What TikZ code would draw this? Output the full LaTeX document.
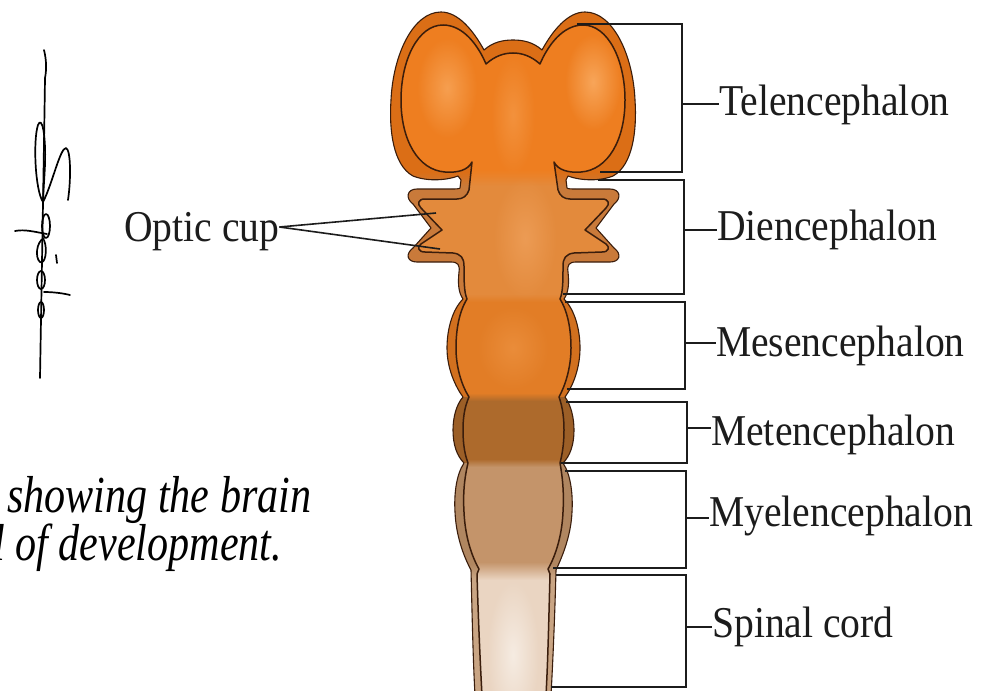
\documentclass[tikz,border=0pt]{standalone}
\usepackage{fontspec}
\setmainfont{Liberation Serif}
\newfontfamily\partfont[FakeStretch=0.9]{Liberation Serif}
\newfontfamily\notefont[FakeStretch=0.81]{Liberation Serif}
\usetikzlibrary{fadings}
\tikzfading[name=softspot, inner color=transparent!0, outer color=transparent!100]

\definecolor{lineBrown}{HTML}{3A1D0C}
\definecolor{telRim}{HTML}{DB6E16}
\definecolor{telIn}{HTML}{EE7E20}
\definecolor{telHi}{HTML}{F9AA60}
\definecolor{dienRim}{HTML}{C97A3A}
\definecolor{dienIn}{HTML}{E38A3C}
\definecolor{dienHi}{HTML}{F0A35F}
\definecolor{mesRim}{HTML}{D2701E}
\definecolor{mesIn}{HTML}{E27D26}
\definecolor{metRim}{HTML}{9C5F27}
\definecolor{metIn}{HTML}{AD6A2C}
\definecolor{myelRim}{HTML}{B08660}
\definecolor{myelIn}{HTML}{C4946A}
\definecolor{spinRim}{HTML}{C9A584}
\definecolor{spinIn}{HTML}{EAD5C2}
\definecolor{spinHi}{HTML}{F8F0E8}
\definecolor{inkBlack}{HTML}{1C1C1C}

% outer silhouette of the neural tube, left side up, over the top, right side down
\newcommand\brainOuter{(-38,695) .. controls (-40,660) and (-41,610) .. (-42,570)
 .. controls (-50,555) and (-57,535) .. (-58,512) .. controls (-59,495) and (-57,475) .. (-49,463)
 .. controls (-56,456) and (-60,445) .. (-60,430) .. controls (-60,418) and (-57,405) .. (-50,397)
 .. controls (-58,386) and (-66,368) .. (-66,348) .. controls (-66,330) and (-61,310) .. (-50,299)
 .. controls (-55,292) and (-55,282) .. (-54,272) .. controls (-53,265) and (-55,262) .. (-62,262)
 -- (-96,262) .. controls (-106,262) and (-108,254) .. (-100,248) -- (-82,228) -- (-100,204)
 .. controls (-108,198) and (-106,189) .. (-96,189) -- (-62,189) .. controls (-57,189) and (-54,189) .. (-53,188)
 -- (-52,180) -- (-55,176)
 .. controls (-65,180) and (-85,182) .. (-100,176) .. controls (-120,165) and (-124,130) .. (-122,100)
 .. controls (-120,55) and (-100,12) .. (-72,12) .. controls (-55,12) and (-40,30) .. (-29,50)
 .. controls (-20,42) and (-10,40) .. (0,40) .. controls (10,40) and (20,42) .. (29,50)
 .. controls (40,30) and (55,12) .. (72,12) .. controls (100,12) and (120,55) .. (122,100)
 .. controls (124,130) and (120,165) .. (100,176) .. controls (85,182) and (65,180) .. (55,176)
 -- (53,180) -- (54,188) .. controls (55,189) and (58,189) .. (63,189)
 -- (97,189) .. controls (107,189) and (109,198) .. (101,204) -- (83,228) -- (101,248)
 .. controls (109,254) and (107,262) .. (97,262) -- (63,262) .. controls (56,262) and (54,265) .. (55,272)
 .. controls (56,282) and (56,292) .. (51,299)
 .. controls (62,310) and (67,330) .. (67,348) .. controls (67,368) and (60,386) .. (52,397)
 .. controls (58,405) and (61,418) .. (61,430) .. controls (61,445) and (57,456) .. (50,463)
 .. controls (58,475) and (60,495) .. (59,512) .. controls (58,535) and (50,555) .. (43,570)
 .. controls (42,610) and (40,660) .. (38,695)}

% inner wall line of the tube
\newcommand\brainInner{(-31,695) .. controls (-33,660) and (-35,610) .. (-36,574)
 -- (-34,569) .. controls (-42,555) and (-48,535) .. (-49,512) .. controls (-50,495) and (-49,480) .. (-45,463)
 .. controls (-48,455) and (-50,445) .. (-50,430) .. controls (-50,420) and (-49,408) .. (-44,397)
 .. controls (-51,386) and (-57,368) .. (-57,348) .. controls (-57,330) and (-54,312) .. (-46,299)
 .. controls (-49,292) and (-49,280) .. (-49,266) .. controls (-49,258) and (-52,254) .. (-60,253)
 -- (-88,252) .. controls (-95,252) and (-96,247) .. (-92,244) -- (-71,230) -- (-92,208)
 .. controls (-96,204) and (-95,199) .. (-88,199)
 -- (-56,199) .. controls (-50,199) and (-46,196) .. (-44,190) -- (-41,162)
 .. controls (-45,170) and (-55,173) .. (-68,172) .. controls (-95,170) and (-112,140) .. (-112,100)
 .. controls (-112,60) and (-95,25) .. (-70,25) .. controls (-50,25) and (-35,45) .. (-27,64)
 .. controls (-18,56) and (-9,53) .. (0,53) .. controls (9,53) and (18,56) .. (27,64)
 .. controls (35,45) and (50,25) .. (70,25) .. controls (95,25) and (112,60) .. (112,100)
 .. controls (112,140) and (95,170) .. (68,172) .. controls (55,173) and (45,170) .. (41,162)
 -- (45,190) .. controls (47,196) and (51,199) .. (57,199) -- (89,199)
 .. controls (96,199) and (97,204) .. (93,208) -- (72,230) -- (93,244)
 .. controls (97,247) and (96,252) .. (89,252) -- (61,253)
 .. controls (53,254) and (50,258) .. (50,266) .. controls (50,280) and (50,292) .. (47,299)
 .. controls (55,312) and (58,330) .. (58,348) .. controls (58,368) and (52,386) .. (46,397)
 .. controls (50,408) and (51,420) .. (51,430) .. controls (51,445) and (49,455) .. (47,463)
 .. controls (50,480) and (51,495) .. (50,512) .. controls (49,535) and (43,555) .. (35,569)
 -- (37,574) .. controls (36,610) and (35,660) .. (33,695)}

\begin{document}
\begin{tikzpicture}[x=1pt,y=-1pt,
  outline/.style={draw=lineBrown, line width=1.1pt, line join=round},
  innerwall/.style={draw=lineBrown, line width=1.5pt, line join=round, line cap=round},
  glow/.style={path fading=softspot},
  bracket/.style={draw=inkBlack, line width=2pt, line join=miter},
  part/.style={font=\partfont\fontsize{44}{50}\selectfont, text=inkBlack, inner sep=0pt, anchor=base west},
  note/.style={font=\notefont\itshape\fontsize{52}{41}\selectfont,
    text=black, inner sep=0pt, align=left, anchor=north west},
  sig/.style={draw=black, line width=1.7pt, line cap=round, line join=round}]
\useasboundingbox (0,0) rectangle (992,690);
\fill[white] (0,0) rectangle (992,690);
\begin{scope}
\clip (0,0) rectangle (992,690);

% ---------------- neural tube ----------------
\begin{scope}[shift={(513,0)}]
  % outer wall colours
  \begin{scope}
    \clip \brainOuter -- cycle;
    \fill[telRim]  (-140,0)   rectangle (140,178);
    \fill[dienRim] (-140,178) rectangle (140,298);
    \fill[mesRim]  (-140,298) rectangle (140,397);
    \fill[metRim]  (-140,397) rectangle (140,463);
    \fill[myelRim] (-140,463) rectangle (140,570);
    \fill[spinRim] (-140,570) rectangle (140,700);
    \shade[top color=telRim, bottom color=dienRim] (-140,172) rectangle (140,186);
    \shade[top color=myelRim, bottom color=spinRim] (-140,564) rectangle (140,578);
  \end{scope}
  % lumen colours
  \begin{scope}
    \clip \brainInner -- cycle;
    \fill[telIn]  (-140,0)   rectangle (140,178);
    \fill[dienIn] (-140,178) rectangle (140,298);
    \fill[mesIn]  (-140,298) rectangle (140,397);
    \fill[metIn]  (-140,397) rectangle (140,463);
    \fill[myelIn] (-140,463) rectangle (140,570);
    \fill[spinIn] (-140,570) rectangle (140,700);
    \shade[top color=telIn, bottom color=dienIn] (-140,170) rectangle (140,186);
    \shade[top color=dienIn, bottom color=mesIn] (-140,294) rectangle (140,302);
    \shade[top color=mesIn, bottom color=metIn] (-140,393) rectangle (140,401);
    \shade[top color=metIn, bottom color=myelIn] (-140,459) rectangle (140,467);
    \shade[top color=myelIn, bottom color=spinIn] (-140,562) rectangle (140,580);
    % soft highlights
    \fill[telHi, fill opacity=0.75, glow] (-66,88) ellipse (30pt and 50pt);
    \fill[telHi, fill opacity=0.9, glow] (80,82) ellipse (28pt and 48pt);
    \fill[telHi, fill opacity=0.45, glow] (0,115) ellipse (22pt and 60pt);
    \fill[dienHi, fill opacity=0.7, glow] (12,238) ellipse (32pt and 62pt);
    \fill[telHi, fill opacity=0.35, glow] (0,348) ellipse (36pt and 42pt);
    \fill[spinHi, fill opacity=0.85, glow] (0,655) ellipse (26pt and 75pt);
  \end{scope}
  \draw[outline] \brainOuter;
  \draw[innerwall] \brainInner;
\end{scope}

% ---------------- bracket end points on the tube ----------------
\coordinate (telTop) at (577,24);   \coordinate (telBot) at (600,172);  \coordinate (telMid) at (682,104);
\coordinate (dieTop) at (598,180);  \coordinate (dieBot) at (563,294);  \coordinate (dieMid) at (684,230);
\coordinate (mesTop) at (565,302);  \coordinate (mesBot) at (567,389);  \coordinate (mesMid) at (685,343);
\coordinate (metTop) at (566,402);  \coordinate (metBot) at (561,463);  \coordinate (metMid) at (687,428);
\coordinate (myeTop) at (565,471);  \coordinate (myeBot) at (553,568);  \coordinate (myeMid) at (686,518);
\coordinate (spiTop) at (556,575);  \coordinate (spiBot) at (551,687);  \coordinate (spiMid) at (686,627);
\coordinate (cupUp) at (436,213);   \coordinate (cupLow) at (440,249);

% ---------------- labels ----------------
\node[part] (tel) at (719,115) {Telencephalon};
\node[part] (die) at (717,240) {Diencephalon};
\node[part] (mes) at (716,356) {Mesencephalon};
\node[part] (met) at (711,445) {Metencephalon};
\node[part] (mye) at (709,526) {Myelencephalon};
\node[part] (spi) at (712,637) {Spinal cord};
\node[part] (optic) at (124,241) {Optic cup};

% ---------------- brackets ----------------
\foreach \p in {tel, die, mes, met, mye, spi}{
  \draw[bracket] (\p Top) -| (\p Mid) |- (\p Bot);
  \draw[bracket] (\p Mid) -- (\p.west |- \p Mid);
}
\draw[line width=1.6pt, inkBlack] ([yshift=14pt]optic.base east) -- (cupUp);
\draw[line width=1.6pt, inkBlack] ([yshift=14pt]optic.base east) -- (cupLow);

% ---------------- caption ----------------
\node[note] (caption) at (-7,476) {\lineskiplimit=-60pt\relax\hspace*{14pt}showing the brain\\l of development.};

% ---------------- signature ----------------
\draw[sig] (44,50) .. controls (46,58) and (47,68) .. (45,78) .. controls (44,150) and (42,260) .. (40,378);
\draw[sig] (43,202) .. controls (35,190) and (33,140) .. (38,125) .. controls (42,115) and (46,135) .. (45,165)
  .. controls (44,185) and (43,195) .. (43,202) .. controls (52,185) and (60,148) .. (66,148)
  .. controls (71,150) and (71,180) .. (68,200);
\draw[sig] (46,226) ellipse (4pt and 12pt);
\draw[sig] (15,231) .. controls (25,229) and (35,232) .. (47,234);
\draw[sig] (44,238) .. controls (36,242) and (35,258) .. (40,262) .. controls (45,265) and (48,250) .. (44,240);
\draw[sig] (56,255) -- (57,263);
\draw[sig] (41,280) ellipse (4pt and 9pt);
\draw[sig] (44,292) .. controls (52,292) and (62,293) .. (70,295);
\draw[sig] (41,310) ellipse (3pt and 8pt);
\end{scope}
\end{tikzpicture}
\end{document}
